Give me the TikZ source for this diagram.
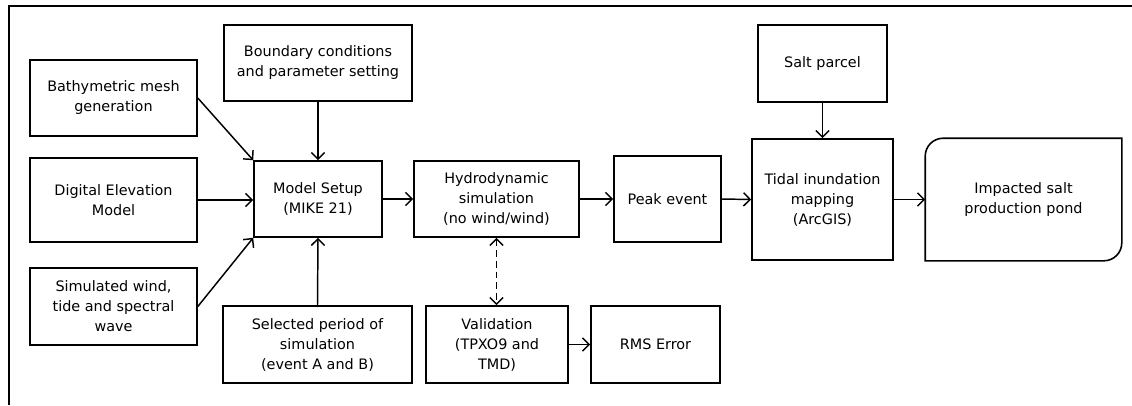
\documentclass[tikz,border=0pt]{standalone}
\usepackage{fontspec}
\setmainfont{DejaVu Sans}
\usetikzlibrary{arrows.meta}
\begin{document}
\begin{tikzpicture}[x=0.75pt,y=0.75pt,
  box/.style={draw, line width=1.2pt, align=center, inner sep=0pt,
    font=\fontsize{10.8}{15}\selectfont},
  tip/.style={},
  arr/.style={line width=1.1pt, -{Straight Barb[length=5pt,width=10pt,line width=1.1pt]}},
  dbl/.style={line width=1.1pt, dash pattern=on 5pt off 3pt,
    {Straight Barb[length=5pt,width=10pt,line width=1.1pt]}-{Straight Barb[length=5pt,width=10pt,line width=1.1pt]}}]
\useasboundingbox (0,0) rectangle (1132,-405);
\draw[line width=1.2pt] (1132,-6) -- (9,-6) -- (9,-405);

\node[box, minimum width=125.25pt, minimum height=57pt] (bath) at (113.5,-98) {Bathymetric mesh\\generation};
\node[box, minimum width=125.25pt, minimum height=63pt] (dem) at (113.5,-200) {Digital Elevation\\Model};
\node[box, minimum width=125.25pt, minimum height=57.75pt] (sim) at (113.5,-306.5) {Simulated wind,\\tide and spectral\\wave};
\node[box, minimum width=141pt, minimum height=57pt] (bound) at (318,-63) {Boundary conditions\\and parameter setting};
\node[box, minimum width=96pt, minimum height=57pt] (model) at (318,-199) {Model Setup\\(MIKE 21)};
\node[box, minimum width=141.75pt, minimum height=57.75pt] (sel) at (317.5,-344.5) {Selected period of\\simulation\\(event A and B)};
\node[box, minimum width=123.75pt, minimum height=57pt] (hydro) at (496.5,-199) {Hydrodynamic\\simulation\\(no wind/wind)};
\node[box, minimum width=80.25pt, minimum height=64.5pt] (peak) at (667.5,-199) {Peak event};
\node[box, minimum width=106.5pt, minimum height=57.75pt] (valid) at (497,-344.5) {Validation\\(TPXO9 and\\TMD)};
\node[box, minimum width=96.75pt, minimum height=57.75pt] (rms) at (655.5,-344.5) {RMS Error};
\node[box, minimum width=96.75pt, minimum height=57.75pt] (salt) at (822.5,-63.5) {Salt parcel};
\node[box, minimum width=105.75pt, minimum height=90.75pt] (tidal) at (822.5,-199.5) {Tidal inundation\\mapping\\(ArcGIS)};
\node[box, draw=none, minimum width=146.25pt, minimum height=90.75pt] (imp) at (1023.5,-199.5) {Impacted salt\\production pond};
\draw[line width=1.2pt] (imp.north east) -- ([yshift=13.5pt]imp.south east)
  arc[start angle=0, end angle=-90, radius=13.5pt] -- (imp.south west)
  -- ([yshift=-13.5pt]imp.north west)
  arc[start angle=180, end angle=90, radius=13.5pt] -- cycle;

\draw[arr] (bath.east) -- (model.north west);
\draw[arr] (dem.east) -- (dem.east -| model.west);
\draw[arr] (sim.east) -- (model.south west);
\draw[arr] (bound.south) -- (model.north);
\draw[arr] (sel.north) -- (model.south);
\draw[arr] (model.east) -- (hydro.west);
\draw[arr] (hydro.east) -- (peak.west);
\draw[arr] (peak.east) -- (tidal.west);
\draw[arr] (salt.south) -- (tidal.north);
\draw[arr] (tidal.east) -- (imp.west);
\draw[dbl] (hydro.south) -- (hydro.south |- valid.north);
\draw[arr] (valid.east) -- (rms.west);
\end{tikzpicture}
\end{document}
